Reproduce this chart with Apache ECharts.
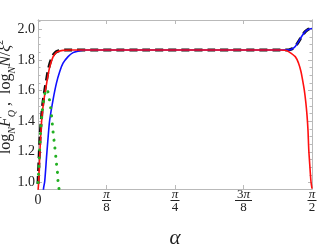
<!DOCTYPE html>
<html><head><meta charset="utf-8">
<script src="https://cdn.jsdelivr.net/npm/echarts@6/dist/echarts.min.js"></script>
<style>html,body{margin:0;padding:0;background:#fff}#c{width:317px;height:249px}</style>
</head><body><div id="c"></div>
<script>
const PI = Math.PI;
// tick positions and labels
const xTickValues = [0, PI/8, PI/4, 3*PI/8, PI/2];
const xTickLabels = ['{num| }\n{zero|0}\n{den| }', '{num|π}\n{bar| }\n{den|8}', '{num|π}\n{bar| }\n{den|4}', '{num3|3}{num|π}\n{bar3| }\n{den|8}', '{num|π}\n{bar| }\n{den|2}'];
const yTickValues = [1.0, 1.2, 1.4, 1.6, 1.8, 2.0];
const yMinorTicks = [1.0,1.05,1.1,1.15,1.2,1.25,1.3,1.35,1.4,1.45,1.5,1.55,1.6,1.65,1.7,1.75,1.8,1.85,1.9,1.95,2.0,2.05];

// series values: [alpha, value]
const redSeries = [[0,0.94],[0.004,1.007],[0.0115,1.213],[0.0213,1.409],[0.0299,1.507],[0.0385,1.572],[0.05,1.65],[0.0672,1.754],[0.0862,1.819],[0.1017,1.845],[0.1149,1.855],[0.1419,1.862],[0.182,1.864],[0.5,1.864],[1.0,1.864],[1.39,1.864],[1.417,1.862],[1.4363,1.854],[1.4748,1.821],[1.4937,1.778],[1.5075,1.724],[1.5167,1.669],[1.5265,1.604],[1.5351,1.525],[1.542,1.441],[1.5477,1.343],[1.5523,1.213],[1.558,1.115],[1.5649,1.006],[1.5708,0.96]];
const blueSeries = [[0.0241,0.82],[0.0316,0.959],[0.0385,1.007],[0.05,1.181],[0.0615,1.344],[0.0672,1.409],[0.0862,1.539],[0.1057,1.648],[0.1247,1.724],[0.1436,1.778],[0.1724,1.821],[0.2011,1.847],[0.2396,1.86],[0.2798,1.864],[0.6,1.864],[1.0,1.864],[1.40,1.864],[1.4363,1.865],[1.4558,1.871],[1.4748,1.887],[1.4937,1.919],[1.5132,1.956],[1.5322,1.984],[1.5512,2.0],[1.5708,2.005]];
const dashedSeries = [[0,0.99],[0.006,1.15],[0.012,1.30],[0.019,1.41],[0.027,1.507],[0.035,1.572],[0.046,1.65],[0.063,1.754],[0.082,1.82],[0.098,1.846],[0.112,1.856],[0.14,1.863],[0.18,1.864],[0.6,1.864],[1.0,1.864],[1.40,1.864],[1.4363,1.865],[1.4558,1.871],[1.4748,1.887],[1.4937,1.919],[1.5132,1.956],[1.5322,1.984],[1.5512,2.0],[1.5708,2.005]];
const greenSeries = [[0,1.0],[0.004,1.072],[0.0098,1.213],[0.0155,1.343],[0.0241,1.461],[0.0327,1.539],[0.0414,1.591],[0.0483,1.609],[0.055,1.6],[0.0632,1.554],[0.0712,1.5],[0.077,1.441],[0.0862,1.332],[0.0959,1.235],[0.1057,1.126],[0.1115,1.065],[0.1149,1.007],[0.1206,0.957],[0.1275,0.89]];

const FRAME = '#b9b9b9';
const SERIF = 'Liberation Serif';
const TXT = '#222';
const YMIN = 0.957, YMAX = 2.06;

function xLabel(v){
  for (let i=0;i<xTickValues.length;i++) if (Math.abs(v-xTickValues[i])<1e-6) return xTickLabels[i];
  return '';
}
const fracRich = {
  num:{fontFamily:SERIF,fontSize:13,fontStyle:'italic',color:TXT,lineHeight:8,align:'center'},
  num3:{fontFamily:SERIF,fontSize:13,color:TXT,lineHeight:8},
  bar:{width:9,height:1,backgroundColor:TXT,lineHeight:3,fontSize:1,align:'center'},
  bar3:{width:17,height:1,backgroundColor:TXT,lineHeight:3,fontSize:1,align:'center'},
  den:{fontFamily:SERIF,fontSize:13,color:TXT,lineHeight:12,align:'center'},
  zero:{fontFamily:SERIF,fontSize:14,color:TXT,lineHeight:3,align:'center'}
};
function yAx(pos, ticks, len, labels){
  return {type:'value', min:YMIN, max:YMAX, position:pos,
    axisLine:{show:true,onZero:false,lineStyle:{color:FRAME,width:1}},
    axisTick:{show:true,inside:true,length:len,customValues:ticks,lineStyle:{color:FRAME}},
    axisLabel: labels ? {show:true,customValues:yTickValues,formatter:v=>v.toFixed(1),fontFamily:SERIF,fontSize:14,color:TXT,margin:3} : {show:false},
    splitLine:{show:false}};
}
const yMain = yAx('left', yTickValues, 4, true);
yMain.name = '{t|log}{s|N}{i|F}{s|Q}{t| ,  log}{s|N}{i|N}{t|/}{i|ξ}{p|2}';
yMain.nameLocation = 'middle';
yMain.nameGap = 21;
yMain.nameMoveOverlap = false;
yMain.nameRotate = 90;
yMain.nameTextStyle = {padding:[0,0,0,15], rich:{
  t:{fontFamily:SERIF,fontSize:16,color:TXT,lineHeight:22},
  i:{fontFamily:SERIF,fontSize:16,fontStyle:'italic',color:TXT,lineHeight:22},
  s:{fontFamily:SERIF,fontSize:10,fontStyle:'italic',color:TXT,lineHeight:12,verticalAlign:'bottom'},
  p:{fontFamily:SERIF,fontSize:10,color:TXT,lineHeight:12,verticalAlign:'top'}
}};

const chart = echarts.init(document.getElementById('c'), null, {renderer:'canvas'});
chart.setOption({
  animation:false,
  backgroundColor:'#fff',
  grid:{left:38,right:5,top:20,bottom:60,containLabel:false,outerBoundsMode:'none'},
  xAxis:[{
    type:'value', min:0, max:PI/2, position:'bottom',
    axisLine:{show:true,onZero:false,lineStyle:{color:FRAME}},
    axisTick:{show:true,inside:true,length:4,customValues:xTickValues,lineStyle:{color:FRAME}},
    axisLabel:{show:true,customValues:xTickValues,formatter:xLabel,margin:2,rich:fracRich},
    splitLine:{show:false},
    name:'α', nameLocation:'middle', nameGap:39, nameMoveOverlap:false,
    nameTextStyle:{fontFamily:SERIF,fontSize:21,fontStyle:'italic',color:TXT}
  },{
    type:'value', min:0, max:PI/2, position:'top',
    axisLine:{show:true,onZero:false,lineStyle:{color:FRAME}},
    axisTick:{show:true,inside:true,length:4,customValues:xTickValues,lineStyle:{color:FRAME}},
    axisLabel:{show:false}, splitLine:{show:false}
  }],
  yAxis:[yMain, yAx('left', yMinorTicks, 2.5, false), yAx('right', yTickValues, 4, false), yAx('right', yMinorTicks, 2.5, false)],
  series:[
    {type:'line', data:dashedSeries, showSymbol:false, smooth:0.3, z:2,
     lineStyle:{color:'#111',width:3,type:[8,5]}},
    {type:'line', data:blueSeries, showSymbol:false, smooth:0.3, z:3,
     lineStyle:{color:'#1010ff',width:1.6}},
    {type:'line', data:redSeries, showSymbol:false, smooth:0.3, z:4,
     lineStyle:{color:'#ff1010',width:1.6}},
    {type:'line', data:greenSeries, showSymbol:false, smooth:0.3, z:5,
     lineStyle:{color:'#22b022',width:3,type:[0.1,8],cap:'round'}}
  ]
});
</script></body></html>
